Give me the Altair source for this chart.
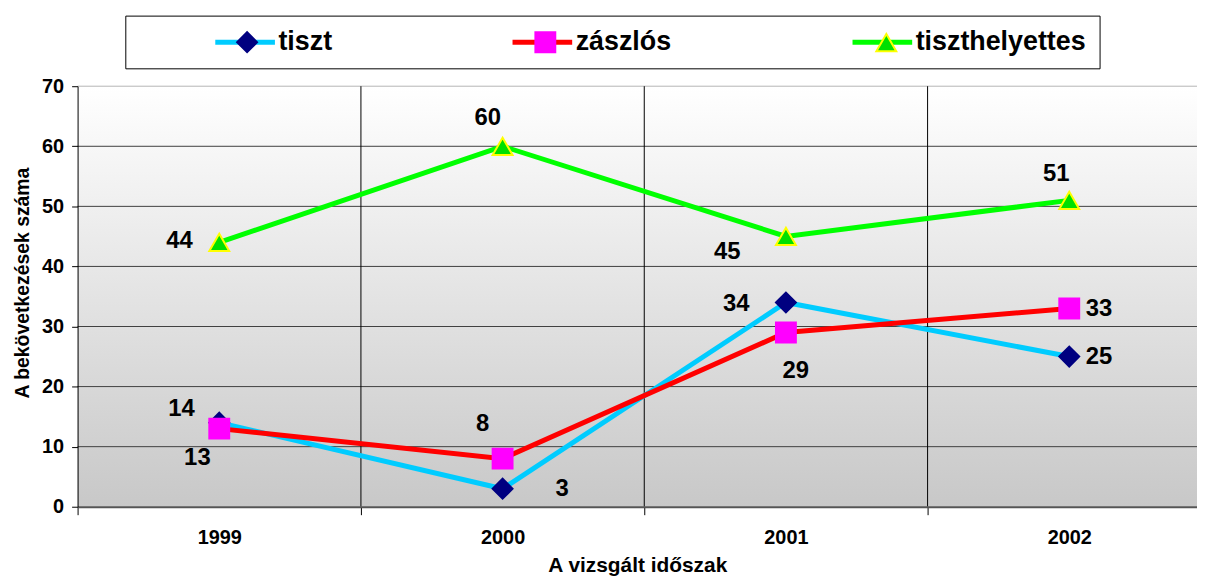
import altair as alt
import pandas as pd

# ---- data ----
years = [1999, 2000, 2001, 2002]
series_names = ["tiszt", "zászlós", "tiszthelyettes"]
tiszt = [14, 3, 34, 25]
zaszlos = [13, 8, 29, 33]
tiszthelyettes = [44, 60, 45, 51]
y_ticks = [0, 10, 20, 30, 40, 50, 60, 70]
x_title = "A vizsgált időszak"
y_title = "A bekövetkezések száma"

# ---- styles ----
line_colors = ["#00ccff", "#ff0000", "#00ff00"]
marker_fill = ["#000080", "#ff00ff", "#00e000"]
marker_stroke = ["#000080", "#ff00ff", "#ffff00"]
marker_shape = ["diamond", "square", "triangle-up"]
FONT = "Liberation Sans"
W, H = 1126, 423
X_START = years[0] - 0.5
X_END = X_START + W / 285.0

# label offsets (pixels) per (series, year)
label_offsets = {
    ("tiszt", 1999): (-38, -14), ("tiszt", 2000): (60, 0),
    ("tiszt", 2001): (-50, 2), ("tiszt", 2002): (30, 0),
    ("zászlós", 1999): (-22, 30), ("zászlós", 2000): (-20, -35),
    ("zászlós", 2001): (10, 39), ("zászlós", 2002): (30, 1),
    ("tiszthelyettes", 1999): (-40, -1), ("tiszthelyettes", 2000): (-15, -28),
    ("tiszthelyettes", 2001): (-59, 16), ("tiszthelyettes", 2002): (-13, -26),
}

rows = []
for name, vals in zip(series_names, [tiszt, zaszlos, tiszthelyettes]):
    for yr, v in zip(years, vals):
        rows.append({"series": name, "marker": name, "year": yr, "value": v})
df = pd.DataFrame(rows)

separators = [y - 0.5 for y in years]          # band boundaries (ticks)
vgrid = pd.DataFrame({"s": separators[1:]})
hgrid = pd.DataFrame({"v": y_ticks[1:]})

x_scale = alt.Scale(domain=[X_START, X_END], nice=False, zero=False)
y_scale = alt.Scale(domain=[0, 70], nice=False, zero=True)

x_axis = alt.Axis(
    values=separators, labelExpr="format(datum.value + 0.5, 'd')",
    labelOffset=142.5, labelFlush=False, grid=False, ticks=True, tickSize=8,
    tickColor="#000000", domainColor="#555555", domainWidth=2,
    labelFont=FONT, labelFontSize=20, labelFontWeight="bold", labelColor="#000000",
    labelPadding=13, title=x_title, titleFont=FONT, titleFontSize=21,
    titleFontWeight="bold", titleColor="#000000", titlePadding=7, zindex=1,
)
y_axis = alt.Axis(
    values=y_ticks, grid=False, tickSize=6, tickColor="#000000",
    domainColor="#000000", domainWidth=1, labelFont=FONT, labelFontSize=20,
    labelFontWeight="bold", labelColor="#000000", labelPadding=8,
    title=y_title, titleFont=FONT, titleFontSize=19.5, titleFontWeight="bold",
    titleColor="#000000", titlePadding=9, titleY=197.5, zindex=1,
)

def X(field):
    return alt.X(field, scale=x_scale, axis=x_axis, title=x_title)

def Y(field):
    return alt.Y(field, scale=y_scale, axis=y_axis, title=y_title)

bg = alt.Chart(pd.DataFrame({"a": [0]})).mark_rect(
    fill=alt.Gradient(
        gradient="linear",
        stops=[alt.GradientStop(color="#ffffff", offset=0),
               alt.GradientStop(color="#c8c8c8", offset=1)],
        x1=0, y1=0, x2=0, y2=1,
    )
).encode(x=alt.value(0), x2=alt.value(W), y=alt.value(0), y2=alt.value(H))

hrules = alt.Chart(hgrid).mark_rule(strokeWidth=1).encode(
    y=Y("v:Q"),
    color=alt.condition(alt.datum.v == 70, alt.value("#b4b4b4"), alt.value("#404040")),
)
vrules = alt.Chart(vgrid).mark_rule(strokeWidth=1, color="#000000").encode(x=X("s:Q"))

# legend: a line legend with a box, and a marker legend drawn over it
legend_lines = alt.Legend(
    orient="none", legendX=48, legendY=-71, direction="horizontal",
    title=" ", titleOrient="left", titleFontSize=1, titlePadding=74,
    symbolType="M-1,0L5,0", symbolSize=400, symbolStrokeWidth=5,
    labelFont=FONT, labelFontSize=27, labelFontWeight="bold", labelColor="#000000",
    labelOffset=40, labelLimit=400, columnPadding=171, padding=13,
    strokeColor="#000000",
)
legend_markers = alt.Legend(
    orient="none", legendX=157, legendY=-58, direction="horizontal", title=None,
    symbolSize=400, symbolStrokeWidth=2, symbolOpacity=1,
    labelFont=FONT, labelFontSize=27, labelFontWeight="bold", labelOpacity=0,
    labelOffset=47, labelLimit=400, columnPadding=171, padding=0,
)

lines = alt.Chart(df).mark_line(strokeWidth=5).encode(
    x=X("year:Q"), y=Y("value:Q"),
    stroke=alt.Stroke("series:N", scale=alt.Scale(domain=series_names, range=line_colors),
                      legend=legend_lines),
)
points = alt.Chart(df).mark_point(filled=True, size=400, strokeWidth=2, opacity=1).encode(
    x=X("year:Q"), y=Y("value:Q"),
    fill=alt.Fill("marker:N", scale=alt.Scale(domain=series_names, range=marker_fill),
                  legend=legend_markers),
    stroke=alt.Stroke("marker:N", scale=alt.Scale(domain=series_names, range=marker_stroke),
                      legend=legend_markers),
    shape=alt.Shape("marker:N", scale=alt.Scale(domain=series_names, range=marker_shape),
                    legend=legend_markers),
)

label_layers = []
for (s, yr), (dx, dy) in label_offsets.items():
    label_layers.append(
        alt.Chart(df).transform_filter(f"datum.series == '{s}' && datum.year == {yr}")
        .mark_text(dx=dx, dy=dy, font=FONT, fontSize=24, fontWeight="bold",
                   color="#000000", align="center", baseline="middle")
        .encode(x=X("year:Q"), y=Y("value:Q"), text=alt.Text("value:Q"))
    )

chart = alt.layer(bg, hrules, vrules, lines, points, *label_layers).resolve_scale(
    stroke="independent", fill="independent", shape="independent"
).properties(
    width=W, height=H,
    padding={"left": 70, "top": 77, "right": 0, "bottom": 68},
    autosize=alt.AutoSizeParams(type="none"),
).configure_view(stroke=None)

chart.save("out.html", embed_options={"renderer": "svg", "actions": False})
